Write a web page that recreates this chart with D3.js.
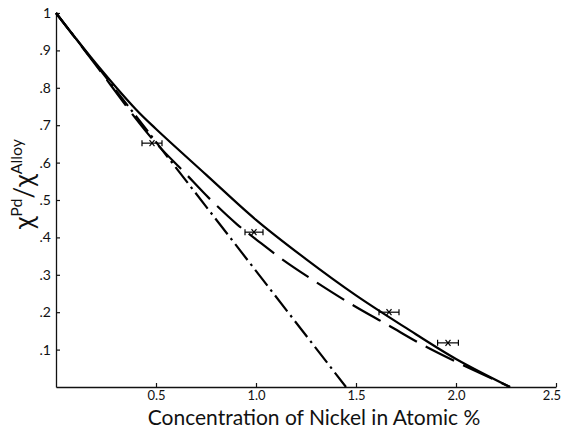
<!DOCTYPE html>
<html>
<head>
<meta charset="utf-8">
<script src="https://cdn.jsdelivr.net/npm/d3@7"></script>
<style>
  body { margin: 0; background: #fff; }
  svg { display: block; }
  text { font-family: Lato, "DejaVu Sans", sans-serif; fill: #111; }
</style>
</head>
<body>
<svg id="chart" width="561" height="429"></svg>
<script>
// curves: [concentration %, chi ratio]
const solidCurve = [
  [0, 1], [0.2, 0.865], [0.4, 0.742], [0.5, 0.69], [0.75, 0.568], [1.0, 0.447],
  [1.25, 0.342], [1.5, 0.245], [1.75, 0.158], [2.0, 0.075], [2.27, 0]
]
const dashedCurve = [
  [0, 1], [0.2, 0.86], [0.4, 0.717], [0.5, 0.652], [0.64, 0.575], [0.765, 0.505],
  [0.905, 0.435], [1.0, 0.395], [1.14, 0.338], [1.285, 0.286], [1.475, 0.222],
  [1.665, 0.164], [1.835, 0.112], [2.01, 0.065], [2.27, 0]
]
const dashDotLine = [[0, 1], [1.45, 0]]

// measured points with horizontal error
const pointsX = [0.48, 0.99, 1.665, 1.96]
const pointsY = [0.652, 0.414, 0.2, 0.118]
const pointsErr = [0.05, 0.045, 0.05, 0.052]

const xTicks = [0.5, 1.0, 1.5, 2.0, 2.5]
const xTickLabels = ['0.5', '1.0', '1.5', '2.0', '2.5']
const yTicks = [0.1, 0.2, 0.3, 0.4, 0.5, 0.6, 0.7, 0.8, 0.9, 1]
const yTickLabels = ['.1', '.2', '.3', '.4', '.5', '.6', '.7', '.8', '.9', '1']

const marginLeft = 56
const marginTop = 13
const width = 500
const height = 374

const svg = d3.select('#chart')

const x = d3.scaleLinear().domain([0, 2.5]).range([0, width])
const y = d3.scaleLinear().domain([0, 1]).range([height, 0])

const g = svg.append('g').attr('transform', `translate(${marginLeft} ${marginTop})`)

// x axis
const xAxis = g.append('g')
  .attr('transform', `translate(0 ${height})`)
  .call(d3.axisBottom(x).tickValues(xTicks).tickSize(-4).tickSizeOuter(0)
    .tickFormat((d, i) => xTickLabels[i]))
xAxis.attr('font-size', 13).attr('font-family', 'Lato, sans-serif')
xAxis.select('.domain').attr('stroke', '#111').attr('stroke-width', 1.3)
xAxis.selectAll('.tick line').attr('stroke', '#111').attr('stroke-width', 1.2)
xAxis.selectAll('.tick text').attr('y', 4).attr('fill', '#111')
// last label sits against the page edge, as in the original
xAxis.selectAll('.tick text')
  .filter((d, i, nodes) => i === nodes.length - 1)
  .attr('text-anchor', 'end')
  .attr('x', 4.5)

// y axis
const yAxis = g.append('g')
  .call(d3.axisLeft(y).tickValues(yTicks).tickSize(-4).tickSizeOuter(0)
    .tickFormat((d, i) => yTickLabels[i]))
yAxis.attr('font-size', 14).attr('font-family', 'Lato, sans-serif')
yAxis.select('.domain').attr('stroke', '#111').attr('stroke-width', 1.3)
yAxis.selectAll('.tick line').attr('stroke', '#111').attr('stroke-width', 1.2)
yAxis.selectAll('.tick text').attr('x', -5).attr('fill', '#111')

// curves
const line = d3.line()
  .x((d) => x(d[0]))
  .y((d) => y(d[1]))
  .curve(d3.curveCatmullRom.alpha(0.5))

g.append('path')
  .datum(solidCurve)
  .attr('fill', 'none')
  .attr('stroke', '#000')
  .attr('stroke-width', 2.2)
  .attr('d', line)

g.append('path')
  .datum(dashedCurve)
  .attr('fill', 'none')
  .attr('stroke', '#000')
  .attr('stroke-width', 2.2)
  .attr('stroke-dasharray', '32 10')
  .attr('d', line)

g.append('path')
  .datum(dashDotLine)
  .attr('fill', 'none')
  .attr('stroke', '#000')
  .attr('stroke-width', 2.2)
  .attr('stroke-dasharray', '20 5 2.5 5')
  .attr('d', d3.line().x((d) => x(d[0])).y((d) => y(d[1])))

// error bars
const pts = g.append('g').attr('stroke', '#000').attr('stroke-width', 1.2).attr('fill', 'none')
pointsX.forEach((px, i) => {
  const cy = y(pointsY[i])
  const x0 = x(px - pointsErr[i])
  const x1 = x(px + pointsErr[i])
  const cx = x(px)
  pts.append('line').attr('x1', x0).attr('x2', x1).attr('y1', cy).attr('y2', cy)
  pts.append('line').attr('x1', x0).attr('x2', x0).attr('y1', cy - 3).attr('y2', cy + 3)
  pts.append('line').attr('x1', x1).attr('x2', x1).attr('y1', cy - 3).attr('y2', cy + 3)
  pts.append('line').attr('x1', cx - 2.5).attr('x2', cx + 2.5).attr('y1', cy - 3).attr('y2', cy + 3)
  pts.append('line').attr('x1', cx - 2.5).attr('x2', cx + 2.5).attr('y1', cy + 3).attr('y2', cy - 3)
})

// x axis title
svg.append('text')
  .attr('x', 314)
  .attr('y', 425)
  .attr('text-anchor', 'middle')
  .attr('font-size', 21)
  .text('Concentration of Nickel in Atomic %')

// y axis title
const yt = svg.append('text')
  .attr('transform', 'translate(33 184) rotate(-90)')
  .attr('text-anchor', 'middle')
  .attr('font-size', 26)
yt.append('tspan').text('χ')
yt.append('tspan').attr('font-size', 16).attr('dy', -11).text('Pd')
yt.append('tspan').attr('dy', 11).text('/χ')
yt.append('tspan').attr('font-size', 16).attr('dy', -11).text('Alloy')
</script>
</body>
</html>
